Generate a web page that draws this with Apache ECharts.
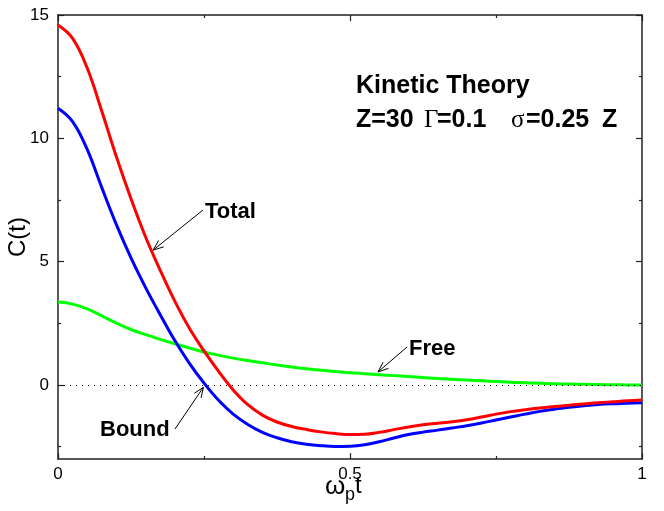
<!DOCTYPE html>
<html><head><meta charset="utf-8">
<script src="https://cdn.jsdelivr.net/npm/echarts@6/dist/echarts.min.js"></script>
<style>html,body{margin:0;padding:0;background:#fff}#c{width:664px;height:511px}</style>
</head><body><div id="c"></div>
<script>
// ---- data ----
const tValues = [0, 0.025, 0.05, 0.075, 0.1, 0.125, 0.15, 0.175, 0.2, 0.225,
  0.25, 0.275, 0.3, 0.325, 0.35, 0.375, 0.4, 0.425, 0.45, 0.475,
  0.5, 0.525, 0.55, 0.575, 0.6, 0.625, 0.65, 0.675, 0.7, 0.725,
  0.75, 0.775, 0.8, 0.825, 0.85, 0.875, 0.9, 0.925, 0.95, 0.975, 1.0];
const totalValues = [14.59, 14.05, 12.85, 11.1, 9.25, 7.55, 6.0, 4.65, 3.4, 2.3,
  1.38, 0.55, -0.2, -0.8, -1.22, -1.5, -1.68, -1.8, -1.9, -1.97,
  -2.01, -2.0, -1.92, -1.81, -1.7, -1.61, -1.55, -1.49, -1.41, -1.3,
  -1.18, -1.08, -1.0, -0.93, -0.87, -0.82, -0.77, -0.72, -0.68, -0.64, -0.61];
const boundValues = [11.22, 10.68, 9.55, 8.0, 6.5, 5.15, 3.95, 2.85, 1.8, 0.88,
  0.08, -0.62, -1.18, -1.6, -1.92, -2.14, -2.3, -2.4, -2.46, -2.49,
  -2.48, -2.42, -2.3, -2.15, -2.01, -1.91, -1.83, -1.74, -1.65, -1.54,
  -1.42, -1.3, -1.18, -1.07, -0.98, -0.9, -0.84, -0.79, -0.76, -0.74, -0.72];
const freeValues = [3.36, 3.28, 3.09, 2.8, 2.51, 2.25, 2.04, 1.85, 1.67, 1.5,
  1.34, 1.21, 1.09, 0.99, 0.9, 0.81, 0.73, 0.66, 0.6, 0.55,
  0.5, 0.46, 0.42, 0.38, 0.34, 0.3, 0.26, 0.23, 0.2, 0.17,
  0.14, 0.11, 0.09, 0.07, 0.05, 0.04, 0.03, 0.02, 0.01, 0.005, 0.0];
const xTickLabels = [0, 0.5, 1];
const xMinorTicks = [0.25, 0.75];
const yTickLabels = [0, 5, 10, 15];
const yMinorTicks = [-2.5, 2.5, 7.5, 12.5];
// annotation anchor points on curves [t, C]
const totalTip = [0.163, 5.47];
const freeTip = [0.548, 0.53];
const boundTip = [0.249, -0.09];

const pairs = v => tValues.map((t, i) => [t, v[i]]);
const FONT = "'Liberation Sans', Arial, Helvetica, sans-serif";
const AX = '#222';

const chart = echarts.init(document.getElementById('c'), null, {renderer: 'canvas'});

function xAx(pos, ticks, len, showLine, showLabel) {
  return {
    type: 'value', position: pos, min: 0, max: 1,
    axisLine: {show: showLine, onZero: false, lineStyle: {color: AX, width: 1.5}},
    axisTick: {show: true, inside: true, length: len, customValues: ticks, lineStyle: {color: AX, width: 1.2}},
    axisLabel: {show: showLabel, customValues: xTickLabels, margin: 7, color: '#000',
      fontSize: 17, fontFamily: FONT, formatter: v => String(v)},
    splitLine: {show: false}
  };
}
function yAx(pos, ticks, len, showLine, showLabel) {
  return {
    type: 'value', position: pos, min: -3, max: 15,
    axisLine: {show: showLine, onZero: false, lineStyle: {color: AX, width: 1.5}},
    axisTick: {show: true, inside: true, length: len, customValues: ticks, lineStyle: {color: AX, width: 1.2}},
    axisLabel: {show: showLabel, customValues: yTickLabels, margin: 9, color: '#000',
      fontSize: 17, fontFamily: FONT, formatter: v => String(v)},
    splitLine: {show: false}
  };
}

const option = {
  animation: false,
  backgroundColor: '#fff',
  grid: {left: 58, right: 22, top: 15, bottom: 52, containLabel: false, outerBoundsMode: 'none'},
  xAxis: [
    xAx('bottom', xTickLabels, 6, true, true),
    xAx('bottom', xMinorTicks, 3, false, false),
    xAx('top', xTickLabels, 6, true, false),
    xAx('top', xMinorTicks, 3, false, false)
  ],
  yAxis: [
    yAx('left', yTickLabels, 6, true, true),
    yAx('left', yMinorTicks, 3, false, false),
    yAx('right', yTickLabels, 6, true, false),
    yAx('right', yMinorTicks, 3, false, false)
  ],
  series: [
    {name: 'Free', type: 'line', data: pairs(freeValues), smooth: 0.4, showSymbol: false,
      lineStyle: {color: '#00ff00', width: 3}, itemStyle: {color: '#00ff00'},
      markLine: {silent: true, symbol: 'none', label: {show: false},
        lineStyle: {color: '#000', type: [1, 5], width: 1}, data: [{yAxis: 0}]}},
    {name: 'Bound', type: 'line', data: pairs(boundValues), smooth: 0.4, showSymbol: false,
      lineStyle: {color: '#0000ff', width: 3}, itemStyle: {color: '#0000ff'}},
    {name: 'Total', type: 'line', data: pairs(totalValues), smooth: 0.4, showSymbol: false,
      lineStyle: {color: '#ff0000', width: 3}, itemStyle: {color: '#ff0000'}}
  ]
};
chart.setOption(option);

function arrow(tail, tipData) {
  const tip = chart.convertToPixel({xAxisIndex: 0, yAxisIndex: 0}, tipData);
  const ang = Math.atan2(tail[1] - tip[1], tail[0] - tip[0]);
  const L = 11, a = 0.38;
  const p1 = [tip[0] + L * Math.cos(ang + a), tip[1] + L * Math.sin(ang + a)];
  const p2 = [tip[0] + L * Math.cos(ang - a), tip[1] + L * Math.sin(ang - a)];
  return [
    {type: 'line', shape: {x1: tail[0], y1: tail[1], x2: tip[0], y2: tip[1]}, style: {stroke: '#000', lineWidth: 1}, z: 100},
    {type: 'polyline', shape: {points: [p1, tip, p2]}, style: {stroke: '#000', lineWidth: 1, fill: null}, z: 100}
  ];
}
const B = "bold 25px " + FONT;
const S = "25px 'Liberation Serif', 'Times New Roman', serif";
function txt(text, x, y, font, align) {
  return {type: 'text', x: x, y: y, z: 100,
    style: {text: text, font: font, fill: '#000', align: align || 'left', verticalAlign: 'middle'}};
}
const graphics = [
  txt('Kinetic Theory', 356, 86, B),
  txt('Z=30', 356, 120, B),
  txt('Γ', 424, 120, S),
  txt('=0.1', 437, 120, B),
  txt('σ', 511, 120, S),
  txt('=0.25', 526, 120, B),
  txt('Z', 602, 120, B),
  txt('Total', 205, 212, "bold 22px " + FONT),
  txt('Free', 409, 349, "bold 22px " + FONT),
  txt('Bound', 100, 430, "bold 22px " + FONT),
  ...arrow([203, 210], totalTip),
  ...arrow([407, 347], freeTip),
  ...arrow([175, 429], boundTip),
  // axis titles
  {type: 'text', x: 18, y: 237, rotation: Math.PI / 2, z: 100,
    style: {text: 'C(t)', font: '24px ' + FONT, fill: '#000', align: 'center', verticalAlign: 'middle'}},
  txt('ω', 325, 487, '26px ' + FONT),
  txt('p', 345, 495, '18px ' + FONT),
  txt('t', 355, 486, '24px ' + FONT)
];
chart.setOption({graphic: graphics});
</script>
</body></html>
